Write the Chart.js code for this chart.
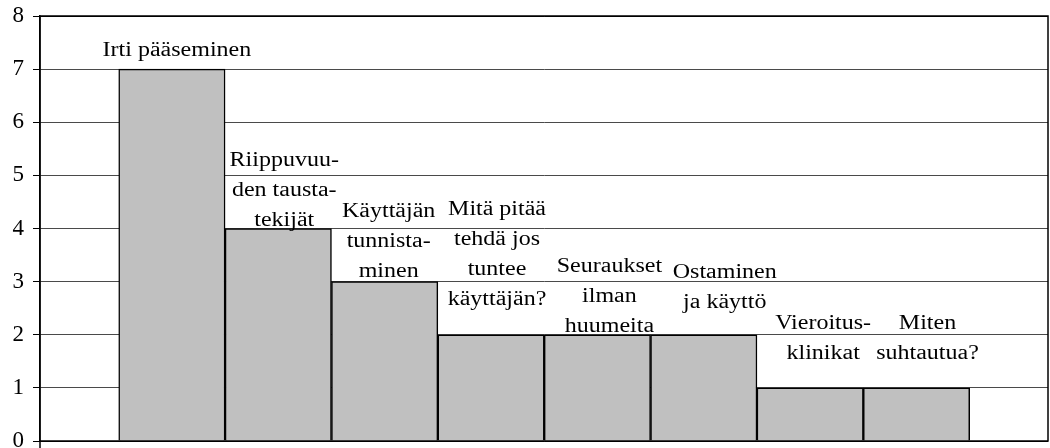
<!DOCTYPE html>
<html>
<head>
<meta charset="utf-8">
<script src="https://cdn.jsdelivr.net/npm/chart.js@4.4.1/dist/chart.umd.min.js"></script>
<style>
    html, body { margin: 0; padding: 0; background: #fff; }
    #wrap { width: 1050px; height: 448px; }
</style>
</head>
<body>
<div id="wrap"><canvas id="chart"></canvas></div>
<script>
// Data
const labelLines = [
    ['Irti pääseminen'],
    ['Riippuvuu-', 'den tausta-', 'tekijät'],
    ['Käyttäjän', 'tunnista-', 'minen'],
    ['Mitä pitää', 'tehdä jos', 'tuntee', 'käyttäjän?'],
    ['Seuraukset', 'ilman', 'huumeita'],
    ['Ostaminen', 'ja käyttö'],
    ['Vieroitus-', 'klinikat'],
    ['Miten', 'suhtautua?']
];
const counts = [7, 4, 3, 2, 2, 2, 1, 1];
const yTicks = [0, 1, 2, 3, 4, 5, 6, 7, 8];

// Label placement relative to bar top (px): [dx, dy of first baseline]
const labelOffsets = [[5, -13], [6, -63], [4, -65], [6, -120], [12, -63], [21, -57], [13, -59], [11, -59]];
const lineHeight = 30;

const serif = '"Liberation Serif", "Times New Roman", serif';

const barLabels = {
    id: 'barLabels',
    afterDatasetsDraw(chart) {
        const ctx = chart.ctx;
        const meta = chart.getDatasetMeta(0);
        ctx.save();
        ctx.fillStyle = '#000';
        ctx.font = '20px ' + serif;
        ctx.textAlign = 'center';
        ctx.textBaseline = 'alphabetic';
        meta.data.forEach((bar, i) => {
            const off = labelOffsets[i];
            labelLines[i].forEach((line, j) => {
                ctx.save();
                ctx.translate(bar.x + off[0], bar.y + off[1] + j * lineHeight);
                ctx.scale(1.2, 1);
                ctx.fillText(line, 0, 0);
                ctx.restore();
            });
        });
        ctx.restore();
    }
};

// Black frame round the plot area
const frame = {
    id: 'frame',
    afterDraw(chart) {
        const a = chart.chartArea;
        const ctx = chart.ctx;
        ctx.save();
        ctx.strokeStyle = '#000';
        ctx.lineWidth = 1.5;
        ctx.strokeRect(a.left, a.top, a.right - a.left, a.bottom - a.top);
        ctx.beginPath();
        ctx.moveTo(a.left, a.bottom);
        ctx.lineTo(a.left, a.bottom + 7);
        ctx.stroke();
        ctx.restore();
    }
};

new Chart(document.getElementById('chart'), {
    type: 'bar',
    data: {
        datasets: [{
            data: counts.map((v, i) => ({ x: i + 1, y: v })),
            backgroundColor: '#c0c0c0',
            borderColor: '#000',
            borderWidth: 1.5,
            categoryPercentage: 1,
            barPercentage: 1
        }]
    },
    options: {
        responsive: true,
        maintainAspectRatio: false,
        animation: false,
        layout: { padding: { top: 16, right: 2, bottom: 7, left: 0 } },
        plugins: {
            legend: { display: false },
            tooltip: { enabled: false }
        },
        scales: {
            x: {
                type: 'linear',
                display: false,
                offset: false,
                min: -0.24,
                max: 9.236,
                ticks: { stepSize: 1, includeBounds: false }
            },
            y: {
                min: 0,
                max: 8,
                afterBuildTicks: (scale) => { scale.ticks = yTicks.map(v => ({ value: v })); },
                afterFit: (scale) => {
                    scale.width = 40;
                    scale.paddingTop = 0;
                    scale.paddingBottom = 0;
                },
                ticks: {
                    color: '#000',
                    padding: 9,
                    font: { family: serif, size: 23 }
                },
                grid: {
                    color: (c) => (c.tick && (c.tick.value === 8 || c.tick.value === 0)) ? '#000' : '#4a4a4a',
                    tickColor: '#000',
                    tickLength: 7,
                    lineWidth: 1
                },
                border: { color: '#000', width: 1.5 }
            }
        }
    },
    plugins: [barLabels, frame]
});
</script>
</body>
</html>
